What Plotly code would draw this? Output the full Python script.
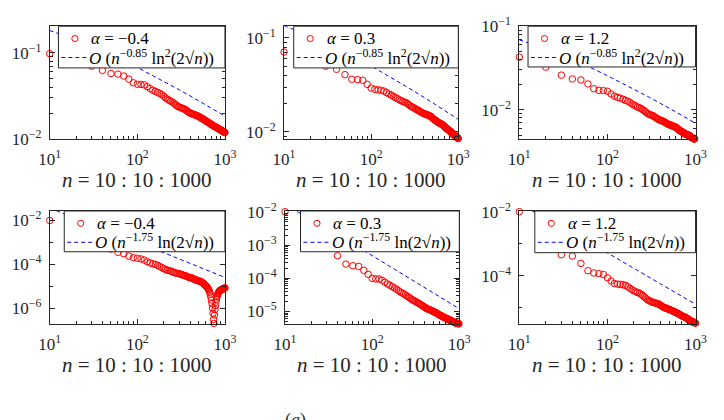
import plotly.graph_objects as go

# ---------------- data ----------------
n_values = list(range(10, 1001, 10))          # n = 10:10:1000
ref_n = [10, 20, 30, 50, 70, 100, 150, 200, 300, 500, 700, 1000]

alpha_labels = ["−0.4", "0.3", "1.2"]

# top row: errors, alpha = -0.4, 0.3, 1.2
err_a1 = [0.098, 0.080, 0.070, 0.0626, 0.0577, 0.0567, 0.0538, 0.0496, 0.0450, 0.0432,
          0.0430, 0.0424, 0.0405, 0.0385, 0.0368, 0.0357, 0.0348, 0.0338, 0.0328, 0.0314,
          0.0300, 0.0290, 0.0282, 0.0275, 0.0269, 0.0262, 0.0253, 0.0245, 0.0239, 0.0235,
          0.0232, 0.0229, 0.0226, 0.0223, 0.0221, 0.0216, 0.0211, 0.0207, 0.0203, 0.0200,
          0.0198, 0.0196, 0.0195, 0.0193, 0.0191, 0.0189, 0.0188, 0.0187, 0.0185, 0.0183,
          0.0181, 0.0178, 0.0176, 0.0174, 0.0173, 0.0171, 0.0169, 0.0167, 0.0165, 0.0163,
          0.0161, 0.0159, 0.0158, 0.0157, 0.0155, 0.0153, 0.0152, 0.0150, 0.0149, 0.0148,
          0.0146, 0.0145, 0.0143, 0.0142, 0.0141, 0.0140, 0.0139, 0.0138, 0.0137, 0.0136,
          0.0135, 0.0134, 0.0133, 0.0132, 0.0131, 0.0130, 0.0129, 0.0128, 0.0127, 0.0127,
          0.0126, 0.0125, 0.0124, 0.0123, 0.0122, 0.0121, 0.0121, 0.0120, 0.0119, 0.0119]

err_a2 = [0.0708, 0.058, 0.050, 0.0464, 0.0407, 0.0363, 0.0360, 0.0355, 0.0321, 0.0293,
          0.0284, 0.0280, 0.0278, 0.0272, 0.0262, 0.0253, 0.0246, 0.0239, 0.0232, 0.0226,
          0.0220, 0.0215, 0.0211, 0.0208, 0.0205, 0.0200, 0.0195, 0.0190, 0.0186, 0.0183,
          0.0180, 0.0177, 0.0174, 0.0171, 0.0169, 0.0166, 0.0163, 0.0161, 0.0159, 0.0157,
          0.0156, 0.0154, 0.0153, 0.0152, 0.0151, 0.0149, 0.0148, 0.0147, 0.0145, 0.0142,
          0.0139, 0.0137, 0.0135, 0.0134, 0.0133, 0.0131, 0.0129, 0.0127, 0.0126, 0.0125,
          0.0124, 0.0123, 0.0122, 0.0121, 0.0120, 0.0119, 0.0118, 0.0116, 0.0115, 0.0114,
          0.0112, 0.0110, 0.0109, 0.0108, 0.0107, 0.0106, 0.0105, 0.0104, 0.0103, 0.0102,
          0.0101, 0.0100, 0.0099, 0.0098, 0.0097, 0.0096, 0.0095, 0.0094, 0.0094, 0.0093,
          0.0092, 0.0091, 0.0090, 0.0089, 0.0089, 0.0088, 0.0087, 0.0086, 0.0086, 0.0085]

err_a3 = [0.0427, 0.0324, 0.0260, 0.0234, 0.0228, 0.0204, 0.0179, 0.0171, 0.0170, 0.0167,
          0.0155, 0.0146, 0.0141, 0.0138, 0.0134, 0.0130, 0.0127, 0.0123, 0.0118, 0.0114,
          0.0111, 0.0108, 0.0106, 0.0104, 0.0101, 0.0098, 0.0095, 0.0092, 0.0090, 0.0088,
          0.0087, 0.0086, 0.0085, 0.0083, 0.0081, 0.0080, 0.0078, 0.0077, 0.0076, 0.0075,
          0.0074, 0.0074, 0.0073, 0.0072, 0.0071, 0.0070, 0.0069, 0.0068, 0.0067, 0.0067,
          0.0066, 0.0066, 0.0065, 0.0065, 0.0064, 0.0064, 0.0063, 0.0063, 0.0062, 0.0062,
          0.0061, 0.0060, 0.0059, 0.0058, 0.0058, 0.0057, 0.0056, 0.0056, 0.0055, 0.0055,
          0.0054, 0.0054, 0.0053, 0.0053, 0.0052, 0.0052, 0.0051, 0.0051, 0.0051, 0.0050,
          0.0050, 0.0050, 0.0050, 0.0050, 0.00495, 0.0049, 0.0048, 0.0048, 0.0047, 0.0047,
          0.0047, 0.0046, 0.0046, 0.0046, 0.0045, 0.0045, 0.0045, 0.0045, 0.00448, 0.00446]

# bottom row: errors, alpha = -0.4, 0.3, 1.2
err_b1 = [1.00e-2, 2.24e-3, 1.12e-3, 7.08e-4, 5.01e-4, 3.55e-4, 3.09e-4, 2.40e-4, 2.04e-4, 1.91e-4,
          1.78e-4, 1.58e-4, 1.32e-4, 1.17e-4, 1.07e-4, 1.00e-4, 9.12e-5, 8.13e-5, 7.24e-5, 6.46e-5,
          5.89e-5, 5.50e-5, 5.25e-5, 5.01e-5, 4.68e-5, 4.37e-5, 4.17e-5, 3.98e-5, 3.89e-5, 3.80e-5,
          3.63e-5, 3.47e-5, 3.31e-5, 3.16e-5, 3.09e-5, 2.95e-5, 2.82e-5, 2.69e-5, 2.57e-5, 2.51e-5,
          2.45e-5, 2.40e-5, 2.29e-5, 2.19e-5, 2.09e-5, 2.00e-5, 1.95e-5, 1.91e-5, 1.86e-5, 1.78e-5,
          1.74e-5, 1.70e-5, 1.66e-5, 1.58e-5, 1.51e-5, 1.45e-5, 1.35e-5, 1.26e-5, 1.17e-5, 1.10e-5,
          1.02e-5, 9.55e-6, 8.91e-6, 8.13e-6, 7.24e-6, 6.31e-6, 5.37e-6, 4.37e-6, 3.31e-6, 2.40e-6,
          1.66e-6, 1.05e-6, 6.03e-7, 3.16e-7, 2.09e-7, 5.01e-7, 8.91e-7, 1.32e-6, 1.91e-6, 2.63e-6,
          3.31e-6, 3.98e-6, 4.57e-6, 5.13e-6, 5.62e-6, 6.03e-6, 6.31e-6, 6.61e-6, 6.76e-6, 6.92e-6,
          7.08e-6, 7.24e-6, 7.41e-6, 7.59e-6, 7.76e-6, 7.94e-6, 8.13e-6, 8.32e-6, 8.51e-6, 8.71e-6]

err_b2 = [1.02e-2, 2.51e-3, 1.12e-3, 4.79e-4, 2.69e-4, 2.40e-4, 2.29e-4, 1.74e-4, 1.32e-4, 1.00e-4,
          9.55e-5, 9.55e-5, 8.71e-5, 7.59e-5, 6.76e-5, 6.17e-5, 5.62e-5, 5.13e-5, 4.68e-5, 4.27e-5,
          3.89e-5, 3.63e-5, 3.39e-5, 3.16e-5, 2.95e-5, 2.75e-5, 2.57e-5, 2.40e-5, 2.24e-5, 2.14e-5,
          2.04e-5, 1.95e-5, 1.86e-5, 1.78e-5, 1.70e-5, 1.62e-5, 1.55e-5, 1.48e-5, 1.41e-5, 1.35e-5,
          1.29e-5, 1.23e-5, 1.20e-5, 1.17e-5, 1.15e-5, 1.12e-5, 1.10e-5, 1.07e-5, 1.05e-5, 1.00e-5,
          9.77e-6, 9.55e-6, 9.33e-6, 9.12e-6, 8.91e-6, 8.71e-6, 8.32e-6, 8.13e-6, 7.94e-6, 7.76e-6,
          7.59e-6, 7.41e-6, 7.24e-6, 7.08e-6, 6.92e-6, 6.76e-6, 6.61e-6, 6.50e-6, 6.40e-6, 6.30e-6,
          6.20e-6, 6.10e-6, 6.00e-6, 5.90e-6, 5.80e-6, 5.70e-6, 5.60e-6, 5.50e-6, 5.40e-6, 5.32e-6,
          5.24e-6, 5.16e-6, 5.08e-6, 5.00e-6, 4.93e-6, 4.86e-6, 4.79e-6, 4.72e-6, 4.66e-6, 4.60e-6,
          4.54e-6, 4.49e-6, 4.44e-6, 4.40e-6, 4.36e-6, 4.33e-6, 4.30e-6, 4.28e-6, 4.27e-6, 4.26e-6]

err_b3 = [1.02e-2, 1.41e-3, 4.57e-4, 4.17e-4, 2.45e-4, 1.45e-4, 1.23e-4, 1.17e-4, 1.10e-4, 8.71e-5,
          6.92e-5, 5.75e-5, 5.50e-5, 5.37e-5, 5.25e-5, 5.01e-5, 4.57e-5, 4.07e-5, 3.72e-5, 3.39e-5,
          3.16e-5, 3.02e-5, 2.88e-5, 2.69e-5, 2.45e-5, 2.24e-5, 2.04e-5, 1.86e-5, 1.74e-5, 1.66e-5,
          1.58e-5, 1.51e-5, 1.48e-5, 1.45e-5, 1.41e-5, 1.38e-5, 1.35e-5, 1.32e-5, 1.26e-5, 1.20e-5,
          1.15e-5, 1.10e-5, 1.05e-5, 1.02e-5, 1.00e-5, 9.77e-6, 9.55e-6, 9.33e-6, 9.12e-6, 8.91e-6,
          8.71e-6, 8.51e-6, 8.32e-6, 8.13e-6, 7.94e-6, 7.76e-6, 7.59e-6, 7.41e-6, 7.24e-6, 7.08e-6,
          6.92e-6, 6.76e-6, 6.61e-6, 6.46e-6, 6.31e-6, 6.17e-6, 6.03e-6, 5.89e-6, 5.75e-6, 5.62e-6,
          5.50e-6, 5.37e-6, 5.25e-6, 5.25e-6, 5.13e-6, 5.13e-6, 5.01e-6, 4.90e-6, 4.79e-6, 4.68e-6,
          4.57e-6, 4.47e-6, 4.37e-6, 4.27e-6, 4.17e-6, 4.07e-6, 3.98e-6, 3.89e-6, 3.80e-6, 3.72e-6,
          3.72e-6, 3.63e-6, 3.63e-6, 3.55e-6, 3.55e-6, 3.47e-6, 3.47e-6, 3.39e-6, 3.39e-6, 3.31e-6]

# reference-rate (dashed) lines, read at ref_n
ref_a1 = [0.1819, 0.1424, 0.1204, 0.0956, 0.0812, 0.0678, 0.0548, 0.0468, 0.0373, 0.0278, 0.0228, 0.0184]
ref_a2 = [0.1349, 0.1056, 0.0893, 0.0709, 0.0602, 0.0503, 0.0406, 0.0347, 0.0277, 0.0206, 0.0169, 0.0136]
ref_a3 = [0.0687, 0.0538, 0.0455, 0.0361, 0.0307, 0.0256, 0.0207, 0.0177, 0.0141, 0.0105, 0.0086, 0.00693]
ref_b1 = [0.03608, 0.01274, 0.006849, 0.003102, 0.001831, 0.001042, 0.0005476, 0.0003458, 0.0001804, 7.91e-5, 4.583e-5, 2.565e-5]
ref_b2 = [0.01689, 0.005966, 0.003206, 0.001452, 0.000857, 0.000488, 0.000256, 0.000162, 8.44e-5, 3.70e-5, 2.146e-5, 1.201e-5]
ref_b3 = [0.01811, 0.006394, 0.003437, 0.001557, 0.000919, 0.000523, 0.000275, 0.0001735, 9.05e-5, 3.97e-5, 2.30e-5, 1.287e-5]

rate_top = "<i>O</i> (<i>n</i><sup>−0.85</sup> ln<sup>2</sup>(2√<i>n</i>))"
rate_bot = "<i>O</i> (<i>n</i><sup>−1.75</sup> ln(2√<i>n</i>))"

x_ticks = [10, 100, 1000]
x_ticktext = ["10<sup>1</sup>", "10<sup>2</sup>", "10<sup>3</sup>"]
x_label = "<i>n</i> = 10 : 10 : 1000"

# ---------------- layout helpers ----------------
W, H = 724, 420
FONT = "Liberation Serif"
AX = "#262626"


def px_x(v):
    return v / W


def px_y(v):
    return 1 - v / H


panels = [
    dict(err=err_a1, ref=ref_a1, alpha=alpha_labels[0], rate=rate_top,
         px=(40, 221), py=(15, 134), yr=(-2.0, -0.69), yt=[-2, -1], leg=(49, 59)),
    dict(err=err_a2, ref=ref_a2, alpha=alpha_labels[1], rate=rate_top,
         px=(282, 462), py=(15, 134), yr=(-2.075, -0.875), yt=[-2, -1], leg=(292, 59)),
    dict(err=err_a3, ref=ref_a3, alpha=alpha_labels[2], rate=rate_top,
         px=(525, 707), py=(15, 134), yr=(-2.348, -1.0), yt=[-2, -1], leg=(534, 58)),
    dict(err=err_b1, ref=ref_b1, alpha=alpha_labels[0], rate=rate_bot,
         px=(40, 221), py=(210, 329), yr=(-6.698, -1.569), yt=[-6, -4, -2], leg=(55, 253)),
    dict(err=err_b2, ref=ref_b2, alpha=alpha_labels[1], rate=rate_bot,
         px=(283, 463), py=(210, 329), yr=(-5.37, -1.97), yt=[-5, -4, -3, -2], leg=(299, 253)),
    dict(err=err_b3, ref=ref_b3, alpha=alpha_labels[2], rate=rate_bot,
         px=(525, 707), py=(210, 329), yr=(-5.5, -1.97), yt=[-4, -2], leg=(541, 254)),
]

x_minor = [m * 10 ** k for k in (1, 2) for m in range(2, 10)]

fig = go.Figure()
layout = dict(width=W, height=H, margin=dict(l=0, r=0, t=0, b=0),
              paper_bgcolor="white", plot_bgcolor="white", showlegend=False,
              font=dict(family=FONT, color=AX))
annotations = []
shapes = []

for i, p in enumerate(panels):
    k = "" if i == 0 else str(i + 1)
    xa, ya = "x" + k, "y" + k
    xd = [px_x(p["px"][0]), px_x(p["px"][1])]
    yd = [px_y(p["py"][1]), px_y(p["py"][0])]

    fig.add_trace(go.Scatter(
        x=n_values, y=p["err"], mode="markers", xaxis=xa, yaxis=ya,
        name="α = " + p["alpha"], cliponaxis=False,
        marker=dict(symbol="circle-open", size=6.5, color="red", line=dict(width=1, color="red"))))
    fig.add_trace(go.Scatter(
        x=ref_n, y=p["ref"], mode="lines", xaxis=xa, yaxis=ya,
        name="rate", cliponaxis=True,
        line=dict(color="blue", width=1, dash="4px,3px")))

    lo, hi = p["yr"]
    if p["yt"][1] - p["yt"][0] == 2:
        y_minor = [10.0 ** e for e in range(int(lo) - 1, int(hi) + 1)]
    else:
        y_minor = [m * 10.0 ** e for e in range(int(lo) - 1, int(hi) + 1) for m in range(2, 10)]

    common = dict(showline=True, linecolor=AX, linewidth=1, mirror="ticks",
                  ticks="inside", ticklen=5, tickcolor=AX, tickwidth=1,
                  showgrid=False, zeroline=False,
                  tickfont=dict(family=FONT, size=17, color=AX))
    layout["xaxis" + k] = dict(common, type="log", domain=xd, anchor=ya,
                               range=[1, 3], tickmode="array", tickvals=x_ticks,
                               ticktext=x_ticktext, ticklabelstandoff=5,
                               minor=dict(tickmode="array", tickvals=x_minor, ticks="inside",
                                          ticklen=3, tickcolor=AX))
    layout["yaxis" + k] = dict(common, type="log", domain=yd, anchor=xa,
                               range=[lo, hi], tickmode="array",
                               tickvals=[10.0 ** e for e in p["yt"]],
                               ticktext=["10<sup>%s</sup>" % str(e).replace("-", "−") for e in p["yt"]],
                               ticklabelstandoff=4,
                               minor=dict(tickmode="array", tickvals=y_minor, ticks="inside",
                                          ticklen=3, tickcolor=AX))

    # ---- legend box (drawn like MATLAB's legend) ----
    lx0, ly1 = p["leg"]
    lx1, ly0 = p["px"][1], p["py"][0]
    shapes.append(dict(type="rect", xref="paper", yref="paper", layer="above",
                       x0=px_x(lx0), x1=px_x(lx1), y0=px_y(ly1), y1=px_y(ly0),
                       fillcolor="white", line=dict(color=AX, width=1)))
    row1 = ly0 + 13
    row2 = ly0 + 33
    cx = lx0 + 17
    shapes.append(dict(type="circle", xref="paper", yref="paper", layer="above",
                       x0=px_x(cx - 3.2), x1=px_x(cx + 3.2), y0=px_y(row1 + 3.2), y1=px_y(row1 - 3.2),
                       line=dict(color="red", width=1)))
    shapes.append(dict(type="line", xref="paper", yref="paper", layer="above",
                       x0=px_x(lx0 + 3), x1=px_x(lx0 + 30), y0=px_y(row2), y1=px_y(row2),
                       line=dict(color="blue", width=1, dash="4px,3px")))
    annotations.append(dict(text="<i>α</i> = " + p["alpha"], xref="paper", yref="paper",
                            x=px_x(lx0 + 32), y=px_y(row1), xanchor="left", yanchor="middle",
                            showarrow=False, font=dict(family=FONT, size=17, color="black")))
    annotations.append(dict(text=p["rate"], xref="paper", yref="paper",
                            x=px_x(lx0 + 30), y=px_y(row2 - 1), xanchor="left", yanchor="middle",
                            showarrow=False, font=dict(family=FONT, size=17, color="black")))

    annotations.append(dict(text=x_label, xref="paper", yref="paper",
                            x=(xd[0] + xd[1]) / 2, y=px_y(p["py"][1] + 43),
                            xanchor="center", yanchor="middle", showarrow=False,
                            font=dict(family=FONT, size=21, color=AX)))

annotations.append(dict(text="(<i>a</i>)", xref="paper", yref="paper",
                        x=px_x(294), y=px_y(431), xanchor="center", yanchor="middle",
                        showarrow=False, font=dict(family=FONT, size=18, color=AX)))
layout["annotations"] = annotations
layout["shapes"] = shapes
fig.update_layout(**layout)
fig.write_html("out.html")
